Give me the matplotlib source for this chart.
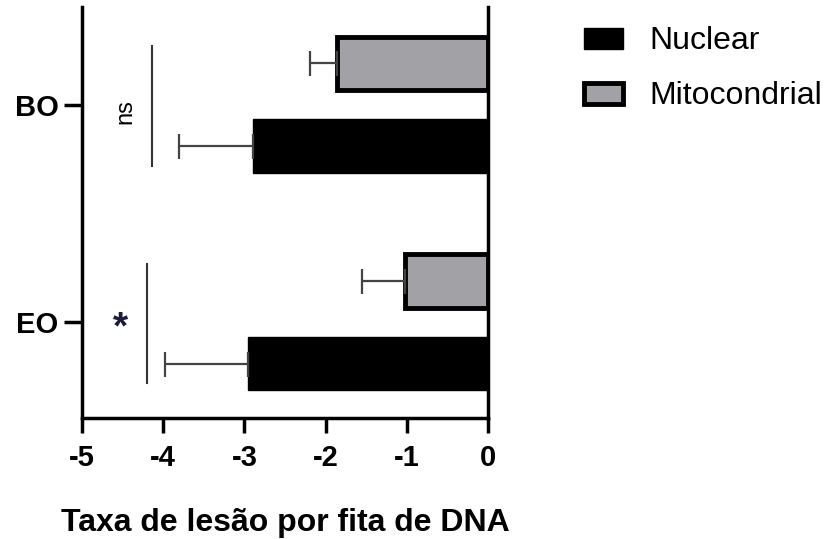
import matplotlib.pyplot as plt
import numpy as np

plt.rcParams['font.family'] = ['Liberation Sans', 'DejaVu Sans']

groups = ['EO', 'BO']
nuclear = [-2.96, -2.89]
nuclear_err = [1.02, 0.91]
mito = [-1.02, -1.86]
mito_err = [0.53, 0.33]
sig_labels = ['*', 'ns']
sig_x = [-4.2, -4.14]

y = np.arange(len(groups))
off = 0.19
h = 0.245

fig = plt.figure(figsize=(8.32, 5.39), dpi=100)
ax = fig.add_axes([0.0986, 0.2245, 0.488, 0.763])

ax.spines['top'].set_visible(False)
for s in ['left', 'bottom', 'right']:
    ax.spines[s].set_linewidth(2.5)
ax.spines['right'].set_position(('data', 0))

ax.barh(y - off, nuclear, height=h, color='black', edgecolor='black', linewidth=1, label='Nuclear')
ax.barh(y + off, mito, height=h, color='#a2a2a6', edgecolor='black', linewidth=3.5, label='Mitocondrial')

# one-sided error bars pointing left
ax.errorbar(nuclear, y - off, xerr=[nuclear_err, [0] * len(y)], fmt='none',
            ecolor='#444444', elinewidth=1.6, capsize=9, capthick=1.6)
ax.errorbar(mito, y + off, xerr=[mito_err, [0] * len(y)], fmt='none',
            ecolor='#444444', elinewidth=1.6, capsize=9, capthick=1.6)

# significance lines
for i in range(len(groups)):
    ax.plot([sig_x[i], sig_x[i]], [y[i] - 0.28, y[i] + 0.27], color='#333333', lw=1.5)
for i, lab in enumerate(sig_labels):
    if lab == 'ns':
        ax.text(sig_x[i] - 0.33, y[i] - 0.03, lab, rotation=90, ha='center', va='center', fontsize=17)
    else:
        ax.text(sig_x[i] - 0.33, y[i] - 0.03, lab, ha='center', va='center', fontsize=28,
                color='#1c1c3a', fontweight='bold')

ax.set_xlim(-5, 0)
ax.set_ylim(-0.44, 1.45)
ax.set_xticks([-5, -4, -3, -2, -1, 0])
ax.set_xticklabels(['-5', '-4', '-3', '-2', '-1', '0'], fontsize=21, fontweight='bold')
ax.set_yticks(y)
ax.set_yticklabels(groups, fontsize=21, fontweight='bold')
ax.tick_params(axis='y', width=2.5, length=13, pad=4)
ax.tick_params(axis='x', width=2.5, length=11, pad=8)

ax.set_xlabel('Taxa de lesão por fita de DNA', fontsize=23, fontweight='bold', labelpad=26)

ax.legend(loc='upper left', bbox_to_anchor=(1.237, 0.952), frameon=False, fontsize=23,
          handlelength=1.2, handleheight=0.65, handletextpad=0.85, labelspacing=0.78,
          borderaxespad=0, borderpad=0)

fig.savefig('out.png', dpi=100)
